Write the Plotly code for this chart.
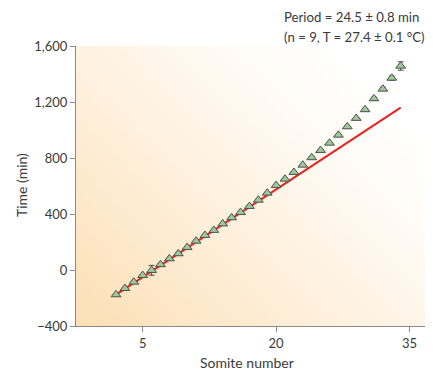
import numpy as np
import plotly.graph_objects as go

# ---- data ----
somite = list(range(2, 35))
time_min = [-176, -131, -86, -38, -2, 39, 81, 117, 162, 207, 248, 284, 330,
            374, 412, 455, 500, 550, 605, 650, 698, 750, 803, 855, 907, 964,
            1024, 1084, 1146, 1224, 1293, 1371, 1457]
time_err = [5, 5, 5, 5, 35, 5, 5, 5, 5, 5, 5, 5, 5,
            5, 5, 5, 5, 5, 5, 5, 5, 5, 5, 5, 5, 5,
            5, 5, 8, 10, 12, 15, 30]
fit_x = [2, 34]
fit_y = [-176, 1160]
x_ticks = [5, 20, 35]
y_ticks = [-400, 0, 400, 800, 1200, 1600]
annot_lines = ["Period = 24.5 \u00b1 0.8 min", "(n = 9, T = 27.4 \u00b1 0.1 \u00b0C)"]
x_title = "Somite number"
y_title = "Time (min)"

X_RANGE = [-2.5, 37.3]
Y_RANGE = [-400, 1600]
FONT = "Lato"
TXT = "#3a3a3a"

# background gradient (style only)
gx = np.linspace(X_RANGE[0], X_RANGE[1], 90)
gy = np.linspace(Y_RANGE[0], Y_RANGE[1], 70)
fx = (gx - X_RANGE[0]) / (X_RANGE[1] - X_RANGE[0])
fy = (gy - Y_RANGE[0]) / (Y_RANGE[1] - Y_RANGE[0])
FX, FY = np.meshgrid(fx, fy)
gz = np.clip(1 - (0.55 * FX + 0.45 * FY) / 0.85, 0, 1) ** 1.2

fig = go.Figure()
fig.add_trace(go.Heatmap(x=gx, y=gy, z=gz, zmin=0, zmax=1, zsmooth="best",
                         colorscale=[[0, "#ffffff"], [1, "#fcdfb4"]],
                         showscale=False, hoverinfo="skip"))
fig.add_trace(go.Scatter(x=fit_x, y=fit_y, mode="lines",
                         line=dict(color="#e8231f", width=2), hoverinfo="skip"))
fig.add_trace(go.Scatter(x=somite, y=time_min, mode="markers",
                         error_y=dict(type="data", array=time_err, color="#4a4a4a",
                                      thickness=1, width=3),
                         marker=dict(symbol="triangle-up", size=8.5, color="#9dca98",
                                     line=dict(color="#4d4d4d", width=1))))

axis_common = dict(showline=True, linecolor="#8a8a8a", linewidth=1, ticks="outside",
                   ticklen=5, tickcolor="#8a8a8a", showgrid=False, zeroline=False,
                   automargin=False,
                   tickfont=dict(family=FONT, size=13, color=TXT))
fig.update_xaxes(range=X_RANGE, tickvals=x_ticks, **axis_common)
fig.update_yaxes(range=Y_RANGE, tickvals=y_ticks, tickformat=",", **axis_common)

ann = []
for i, t in enumerate(annot_lines):
    ann.append(dict(text=t, xref="paper", yref="paper", x=0.583, y=1.104 - i * 0.072,
                    xanchor="left", yanchor="middle", showarrow=False,
                    font=dict(family=FONT, size=13.2, color=TXT)))
ann.append(dict(text=x_title, xref="paper", yref="paper", x=0.483, y=-0.13,
                xanchor="center", yanchor="middle", showarrow=False,
                font=dict(family=FONT, size=14, color=TXT)))
ann.append(dict(text=y_title, xref="paper", yref="paper", x=-0.152, y=0.504,
                xanchor="center", yanchor="middle", showarrow=False, textangle=-90,
                font=dict(family=FONT, size=14, color=TXT)))

# page body has an 8px margin, so the figure is sized/placed to compensate
fig.update_layout(width=425, height=364, margin=dict(l=68, r=3, t=38, b=46),
                  paper_bgcolor="white", plot_bgcolor="white", showlegend=False,
                  annotations=ann)
fig.write_html("out.html")
